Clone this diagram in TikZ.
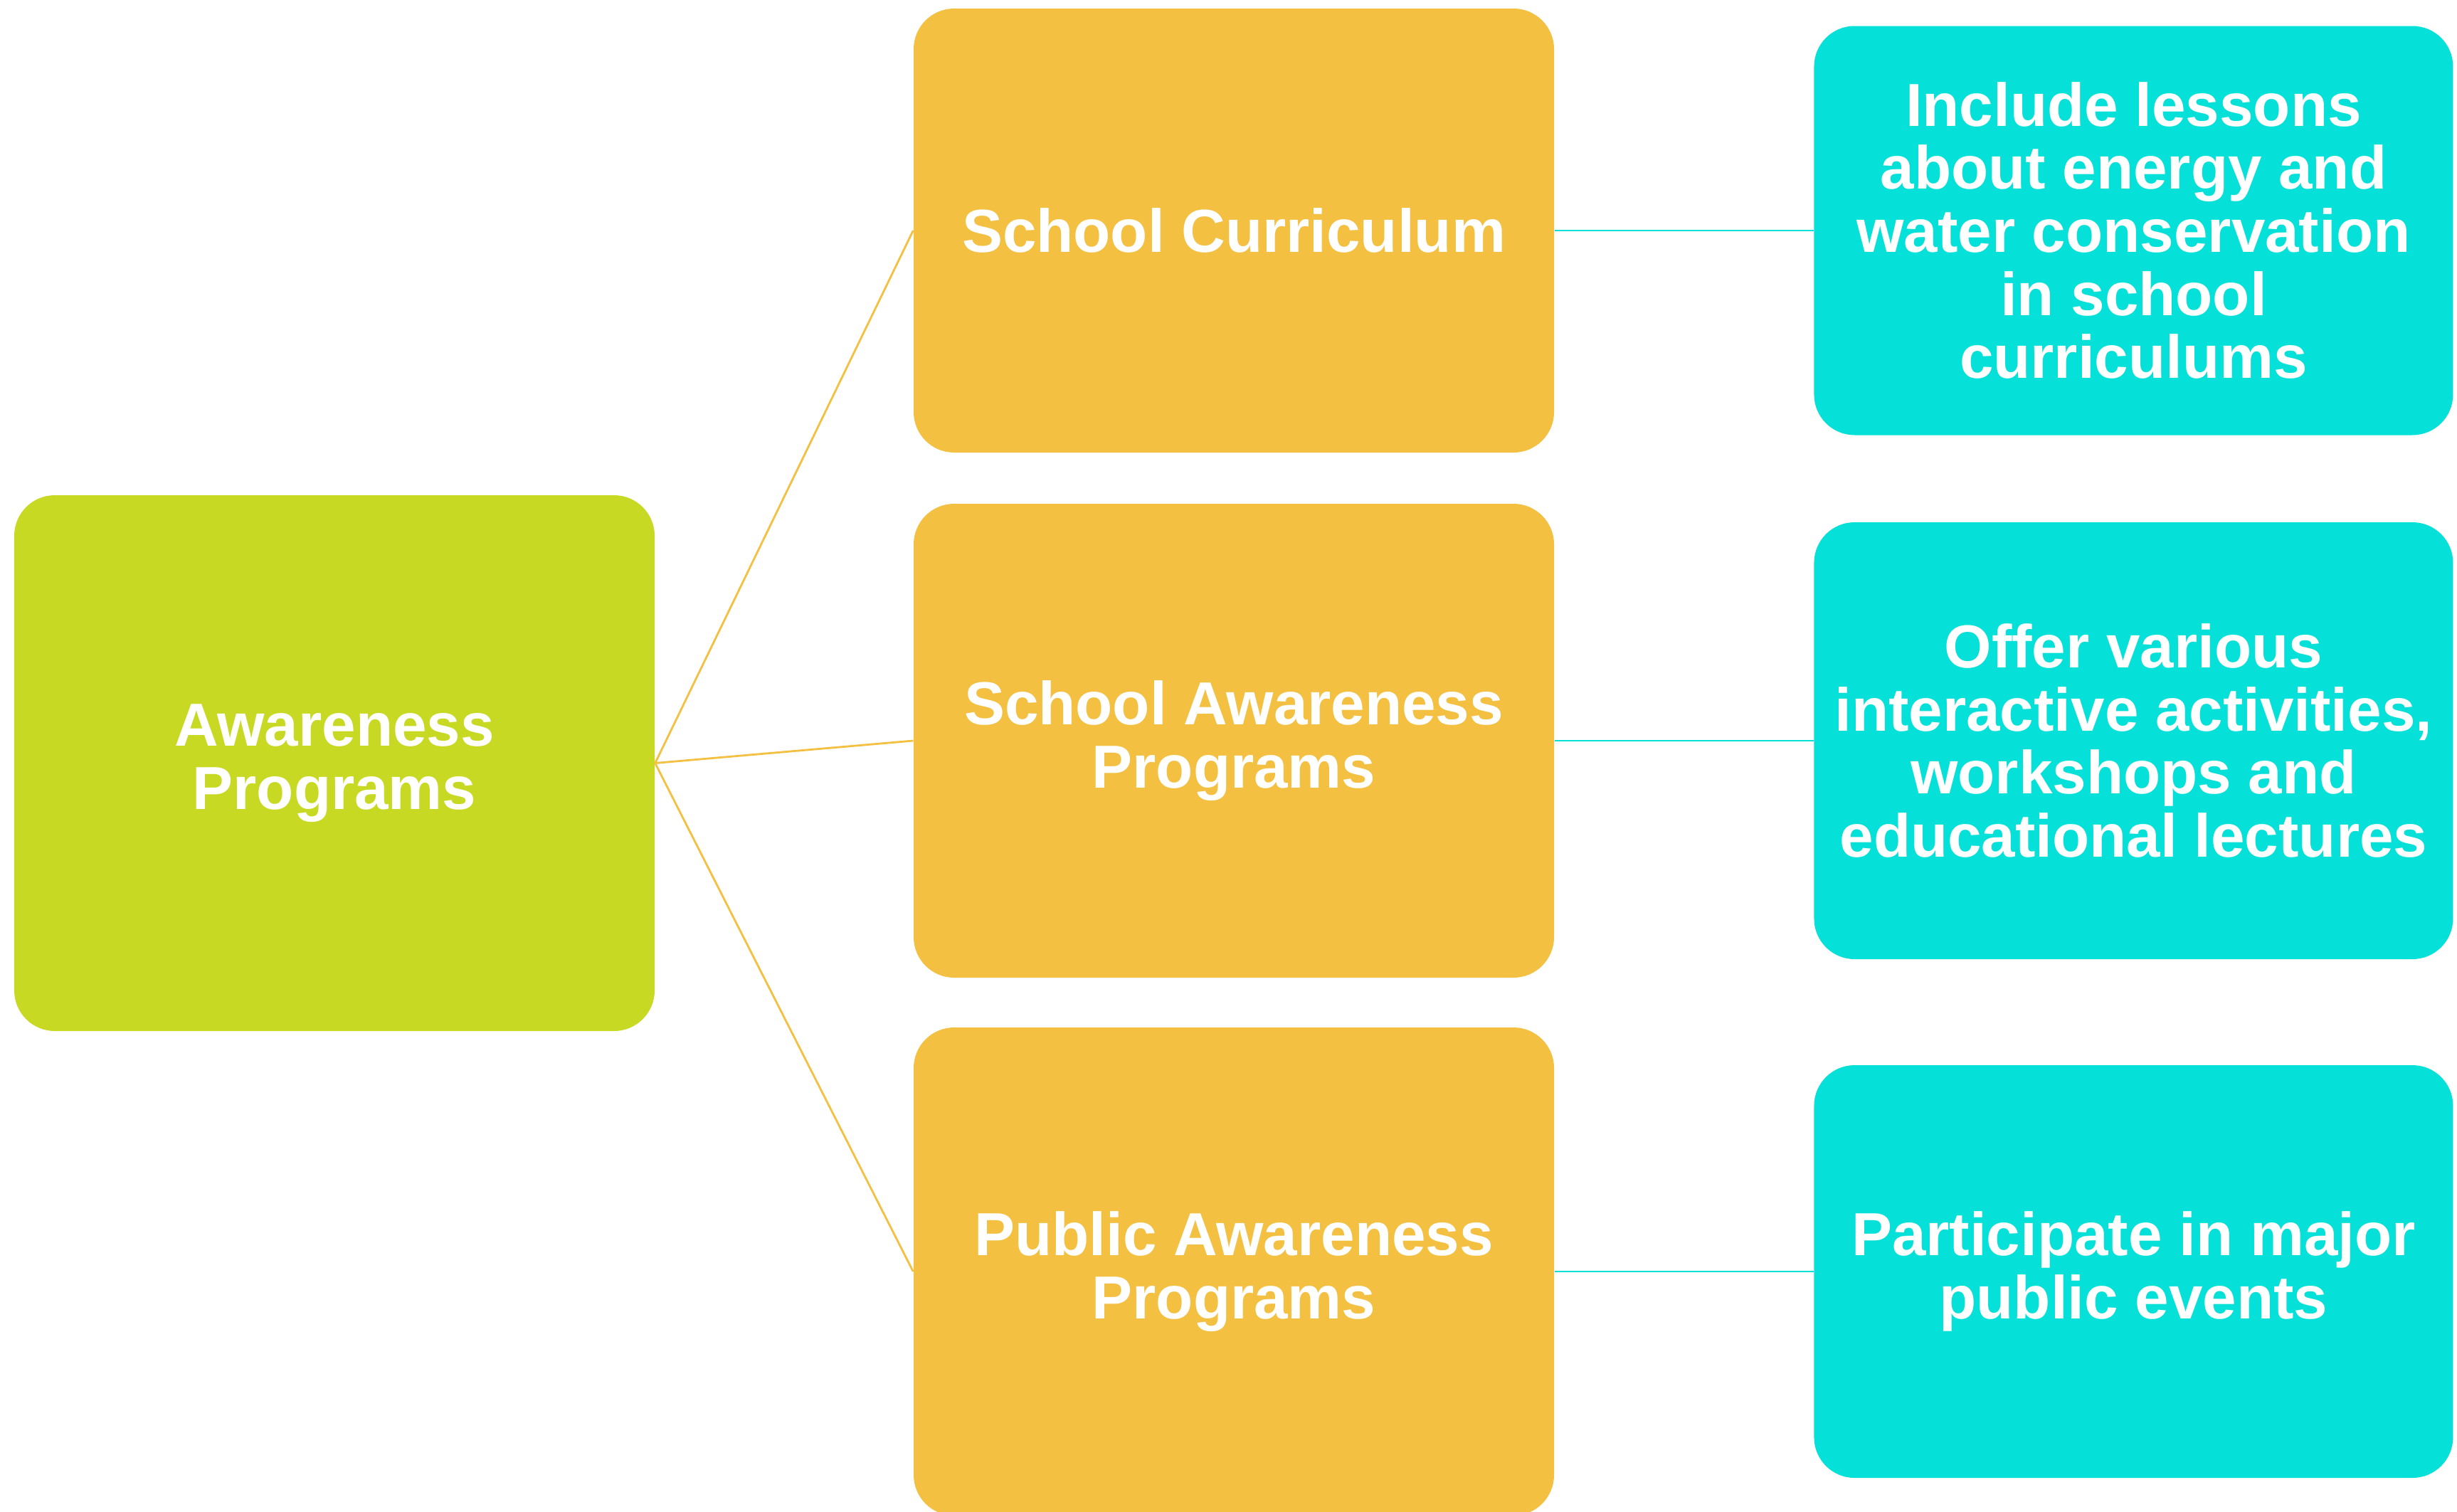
\documentclass[tikz,border=0pt]{standalone}
\usepackage{fontspec}
\setmainfont{Liberation Sans}
\usetikzlibrary{positioning}
\definecolor{rootgreen}{RGB}{200,217,36}
\definecolor{midorange}{RGB}{244,192,65}
\definecolor{leafteal}{RGB}{5,224,216}
\newcommand{\boxfont}{\fontsize{24.3}{25.2}\selectfont\bfseries}
\tikzstyle{block} = [rounded corners=0.57cm, align=center, text=white, font=\boxfont, inner sep=0pt, minimum width=9cm]
\tikzstyle{rootbox} = [block, fill=rootgreen]
\tikzstyle{midbox} = [block, fill=midorange]
\tikzstyle{leafbox} = [block, fill=leafteal, minimum width=8.98cm]
\tikzstyle{midlink} = [draw=midorange, line width=0.8pt]
\tikzstyle{leaflink} = [draw=leafteal, line width=0.8pt]

\begin{document}
\begin{tikzpicture}[node distance=3.64cm]

		\useasboundingbox (0,0) rectangle (34.53,-21.24);

		\node (aware) [rootbox, minimum height=7.53cm] at (4.70,-10.725) {Awareness\\Programs};

		\node (curric) [midbox, minimum height=6.24cm] at (17.34,-3.24) {School Curriculum};
		\node (school) [midbox, minimum height=6.66cm] at (17.34,-10.41) {School Awareness\\Programs};
		\node (public) [midbox, minimum height=6.86cm] at (17.34,-17.87) {Public Awareness\\Programs};

		\node (lessons) [leafbox, minimum height=5.75cm, right=of curric] {Include lessons\\about energy and\\water conservation\\in school\\curriculums};
		\node (offer) [leafbox, minimum height=6.14cm, right=of school] {Offer various\\interactive activities,\\workshops and\\educational lectures};
		\node (events) [leafbox, minimum height=5.80cm, right=of public] {Participate in major\\public events};

		\draw [midlink] (aware.east) -- (curric.west);
		\draw [midlink] (aware.east) -- (school.west);
		\draw [midlink] (aware.east) -- (public.west);

		\draw [leaflink] (curric.east) -- (lessons.west);
		\draw [leaflink] (school.east) -- (offer.west);
		\draw [leaflink] (public.east) -- (events.west);

	\end{tikzpicture}
\end{document}
